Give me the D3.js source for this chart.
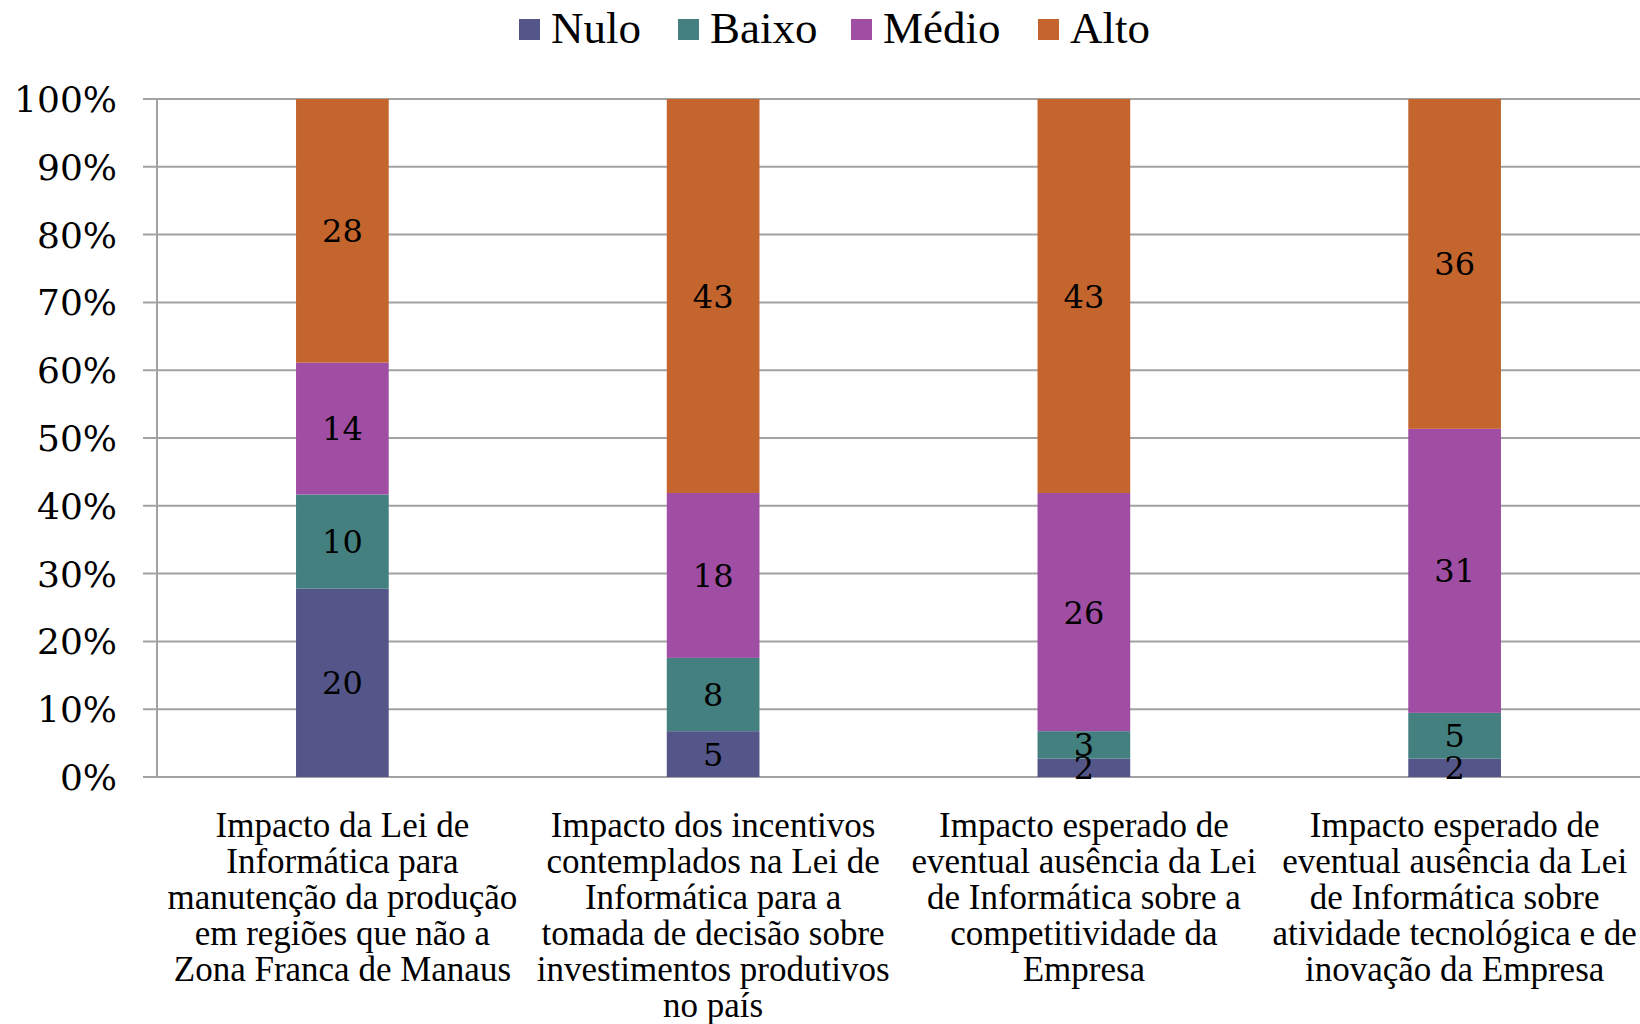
<!DOCTYPE html>
<html>
<head>
<meta charset="utf-8">
<script src="https://cdn.jsdelivr.net/npm/d3@7"></script>
<style>
  body { margin: 0; background: #fff; }
</style>
</head>
<body>
<div id="chart"></div>
<script>
// data
var categories = ["c1", "c2", "c3", "c4"];
var categoryLabels = [
  ["Impacto da Lei de", "Informática para", "manutenção da produção", "em regiões que não a", "Zona Franca de Manaus"],
  ["Impacto dos incentivos", "contemplados na Lei de", "Informática para a", "tomada de decisão sobre", "investimentos produtivos", "no país"],
  ["Impacto esperado de", "eventual ausência da Lei", "de Informática sobre a", "competitividade da", "Empresa"],
  ["Impacto esperado de", "eventual ausência da Lei", "de Informática sobre", "atividade tecnológica e de", "inovação da Empresa"]
];
var seriesNames = ["Nulo", "Baixo", "Médio", "Alto"];
var nulo  = [20, 5, 2, 2];
var baixo = [10, 8, 3, 5];
var medio = [14, 18, 26, 31];
var alto  = [28, 43, 43, 36];
var yTicks = [0, 0.1, 0.2, 0.3, 0.4, 0.5, 0.6, 0.7, 0.8, 0.9, 1];
var colors = ["#545589", "#43807f", "#9f4ea3", "#c4652e"];

var W = 1640, H = 1024;
var margin = {top: 99, right: 0, bottom: 247, left: 157};
var width = W - margin.left - margin.right,
    height = H - margin.top - margin.bottom;

var svg = d3.select("#chart")
  .append("svg")
    .attr("width", W)
    .attr("height", H);

var g = svg.append("g")
    .attr("transform", "translate(" + margin.left + "," + margin.top + ")");

// build table for the stack
var table = categories.map(function(c, i) {
  return {cat: c, Nulo: nulo[i], "Baixo": baixo[i], "Médio": medio[i], Alto: alto[i]};
});
var stack = d3.stack().keys(seriesNames).offset(d3.stackOffsetExpand);
var layers = stack(table);

var x = d3.scaleBand()
  .domain(categories)
  .range([0, width])
  .paddingInner(0.75)
  .paddingOuter(0.375);

var y = d3.scaleLinear()
  .domain([0, 1])
  .range([height, 0]);

// gridlines
g.append("g")
  .selectAll("line")
  .data(yTicks)
  .enter()
  .append("line")
    .attr("x1", -14)
    .attr("x2", width)
    .attr("y1", function(d) { return y(d); })
    .attr("y2", function(d) { return y(d); })
    .style("stroke", "#a2a2a2")
    .style("stroke-width", 2);

// vertical axis line
g.append("line")
  .attr("x1", 0).attr("x2", 0)
  .attr("y1", y(1)).attr("y2", y(0))
  .style("stroke", "#a2a2a2")
  .style("stroke-width", 2);

// y tick labels
g.append("g")
  .selectAll("text")
  .data(yTicks)
  .enter()
  .append("text")
    .attr("x", -40)
    .attr("y", function(d) { return y(d); })
    .attr("dy", "0.36em")
    .attr("text-anchor", "end")
    .style("font-family", "'DejaVu Serif', serif")
    .style("font-size", "36px")
    .style("fill", "#000")
    .text(function(d) { return d3.format(".0%")(d); });

// bars
var layer = g.selectAll(".layer")
  .data(layers)
  .enter()
  .append("g")
    .attr("class", "layer")
    .style("fill", function(d, i) { return colors[i]; });

layer.selectAll("rect")
  .data(function(d) { return d; })
  .enter()
  .append("rect")
    .attr("x", function(d) { return x(d.data.cat); })
    .attr("y", function(d) { return y(d[1]); })
    .attr("height", function(d) { return y(d[0]) - y(d[1]); })
    .attr("width", x.bandwidth());

// value labels
layers.forEach(function(l) {
  g.append("g")
    .selectAll("text")
    .data(l)
    .enter()
    .append("text")
      .attr("x", function(d) { return x(d.data.cat) + x.bandwidth() / 2; })
      .attr("y", function(d) { return (y(d[0]) + y(d[1])) / 2; })
      .attr("dy", "0.36em")
      .attr("text-anchor", "middle")
      .style("font-family", "'DejaVu Serif', serif")
      .style("font-size", "32px")
      .style("fill", "#000")
      .text(function(d) { return d.data[l.key]; });
});

// category labels
var catG = g.append("g")
  .selectAll("text")
  .data(categories)
  .enter()
  .append("text")
    .attr("text-anchor", "middle")
    .attr("transform", function(d) { return "translate(" + (x(d) + x.bandwidth() / 2) + "," + (height + 60) + ")"; })
    .style("font-family", "'Liberation Serif', serif")
    .style("font-size", "35px")
    .style("fill", "#000");

catG.selectAll("tspan")
  .data(function(d, i) { return categoryLabels[i]; })
  .enter()
  .append("tspan")
    .attr("x", 0)
    .attr("y", function(d, i) { return i * 36; })
    .text(function(d) { return d; });

// legend
var legendX = [519, 678, 851, 1038];
var legend = svg.append("g")
  .selectAll("g")
  .data(seriesNames)
  .enter()
  .append("g")
    .attr("transform", function(d, i) { return "translate(" + legendX[i] + ",19)"; });

legend.append("rect")
  .attr("width", 21)
  .attr("height", 21)
  .style("fill", function(d, i) { return colors[i]; });

legend.append("text")
  .attr("x", 32)
  .attr("y", 24)
  .style("font-family", "'Liberation Serif', serif")
  .style("font-size", "45px")
  .style("fill", "#000")
  .text(function(d) { return d; });
</script>
</body>
</html>
